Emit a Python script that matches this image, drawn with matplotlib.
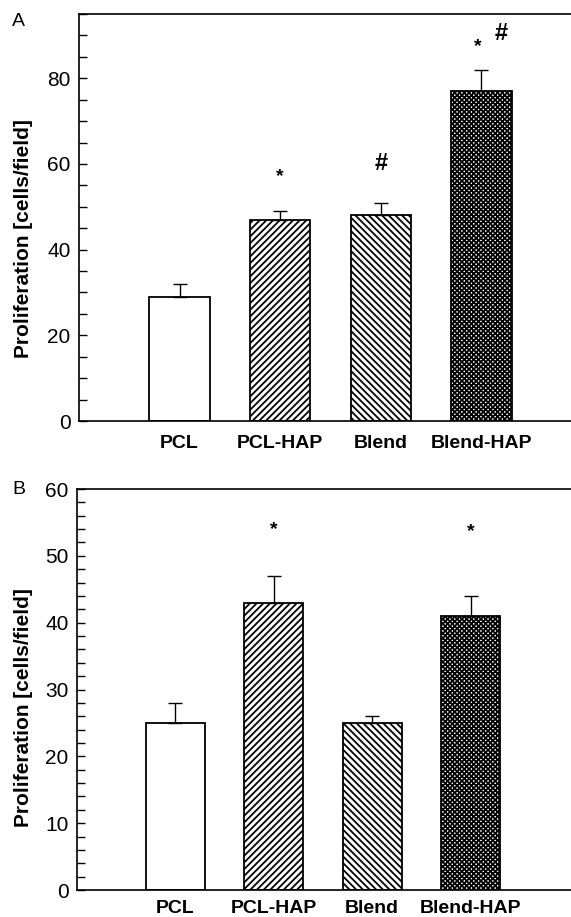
import matplotlib
matplotlib.use("Agg")
import matplotlib.pyplot as plt
from matplotlib.ticker import MultipleLocator
import numpy as np

# data
groups = ["PCL", "PCL-HAP", "Blend", "Blend-HAP"]
hatches = ["", "/////", "\\\\\\\\\\", "xxxxxxx"]

prolif_a = [29, 47, 48, 77]
err_a = [3, 2, 3, 5]
prolif_b = [25, 43, 25, 41]
err_b = [3, 4, 1, 3]

# significance marks: (x position, y value, symbol)
marks_a = [(2, 57, "*"), (3, 60, "#"), (3.96, 87.5, "*"), (4.2, 90.5, "#")]
marks_b = [(2, 54, "*"), (4, 53.6, "*")]

plt.rcParams['font.family'] = ['Liberation Sans', 'DejaVu Sans']
plt.rcParams['hatch.linewidth'] = 1.3

fig = plt.figure(figsize=(5.71, 9.17), dpi=100)


def panel(rect, vals, errs, marks, ymax, major, minor, xmax, letter, letter_y, ylab_y, xpad):
    ax = fig.add_axes(rect)
    x = np.arange(1, len(groups) + 1)
    ax.bar(x, vals, width=0.6, color="white", edgecolor="black",
           linewidth=1.3, hatch=hatches, zorder=2)
    ax.errorbar(x, vals, yerr=[np.zeros(len(errs)), errs], fmt="none",
                ecolor="black", elinewidth=1.0, capsize=5, capthick=1.0, zorder=3)
    for mx, my, s in marks:
        size = 17 if s == "#" else 14
        ax.text(mx, my, s, ha="center", va="center", fontsize=size, fontweight="bold")
    ax.set_xlim(0, xmax)
    ax.set_ylim(0, ymax)
    ax.yaxis.set_major_locator(MultipleLocator(major))
    ax.yaxis.set_minor_locator(MultipleLocator(minor))
    ax.set_xticks(x)
    ax.set_xticklabels(groups, fontsize=14, fontweight="bold")
    ax.tick_params(axis="x", length=0, pad=xpad)
    ax.tick_params(axis="y", which="both", direction="in", length=5.5, width=1.0,
                   labelsize=15, pad=6)
    ax.spines["right"].set_visible(False)
    for sp in ["left", "top", "bottom"]:
        ax.spines[sp].set_linewidth(1.2)
    fig.text(12 / 571, 1 - letter_y / 917, letter, fontsize=14, va="center")
    fig.text(24 / 571, 1 - ylab_y / 917, "Proliferation [cells/field]",
             rotation=90, ha="center", va="center", fontsize=15, fontweight="bold")
    return ax


panel([79 / 571, 1 - 421 / 917, 1 - 79 / 571, 407 / 917], prolif_a, err_a, marks_a,
      95, 20, 5, 4.89, "A", 22, 239, 10)
panel([77 / 571, 1 - 890 / 917, 1 - 77 / 571, 401 / 917], prolif_b, err_b, marks_b,
      60, 10, 2, 5.02, "B", 490, 708, 7)

fig.savefig("out.png", dpi=100)
